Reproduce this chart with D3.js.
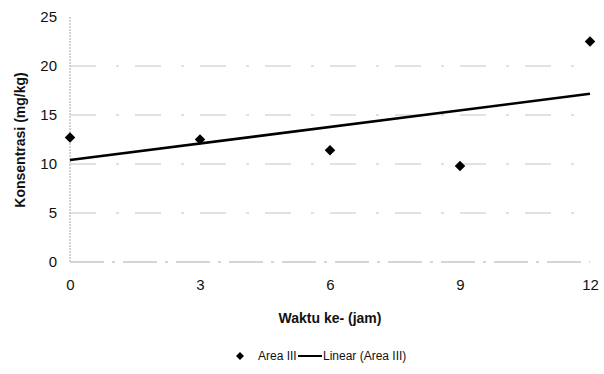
<!DOCTYPE html>
<html>
<head>
<meta charset="utf-8">
<script src="https://cdn.jsdelivr.net/npm/d3@7"></script>
<style>
  html, body { margin: 0; padding: 0; background: #fff; }
  text { font-family: "Liberation Sans", Arial, sans-serif; fill: #111; }
</style>
</head>
<body>
<svg id="chart" width="604" height="374"></svg>
<script>
// Sampling hours and measured concentration (Area III)
const hours = [0, 3, 6, 9, 12];
const konsentrasi = [12.7, 12.5, 11.4, 9.8, 22.5];
const xTicks = [0, 3, 6, 9, 12];
const yTicks = [0, 5, 10, 15, 20, 25];

const svg = d3.select("#chart");
const x = d3.scaleLinear().domain([0, 12]).range([70, 590]);
const y = d3.scaleLinear().domain([0, 25]).range([262, 17]);

// Horizontal gridlines
svg.append("g").selectAll("line")
  .data(yTicks.filter(d => d > 0 && d < 25))
  .join("line")
  .attr("x1", x(0)).attr("x2", x(12))
  .attr("y1", d => y(d)).attr("y2", d => y(d))
  .attr("stroke", "#c4c4c4").attr("stroke-width", 1)
  .attr("stroke-dasharray", "26,20,3,16");

// Baseline and vertical axis
svg.append("line")
  .attr("x1", x(0)).attr("x2", x(12)).attr("y1", y(0)).attr("y2", y(0))
  .attr("stroke", "#aaa").attr("stroke-dasharray", "34,8,3,8");
svg.append("line")
  .attr("x1", x(0)).attr("x2", x(0)).attr("y1", y(25)).attr("y2", y(0))
  .attr("stroke", "#aaa").attr("stroke-dasharray", "2,1");

// Axes (labels only)
const yAxis = d3.axisLeft(y).tickValues(yTicks).tickSize(0).tickPadding(13);
svg.append("g").attr("transform", `translate(${x(0)},0)`).call(yAxis)
  .call(g => g.select(".domain").remove())
  .call(g => g.selectAll("text").attr("font-size", 15).style("font-family", "Liberation Sans, Arial, sans-serif"));

const xAxis = d3.axisBottom(x).tickValues(xTicks).tickSize(0).tickPadding(17);
svg.append("g").attr("transform", `translate(0,${y(0)})`).call(xAxis)
  .call(g => g.select(".domain").remove())
  .call(g => g.selectAll("text").attr("font-size", 15).style("font-family", "Liberation Sans, Arial, sans-serif"));

// Least-squares trend line
const mx = d3.mean(hours), my = d3.mean(konsentrasi);
const slope = d3.sum(hours, (h, i) => (h - mx) * (konsentrasi[i] - my)) / d3.sum(hours, h => (h - mx) ** 2);
const intercept = my - slope * mx;
svg.append("line")
  .attr("x1", x(0)).attr("y1", y(intercept))
  .attr("x2", x(12)).attr("y2", y(intercept + slope * 12))
  .attr("stroke", "#000").attr("stroke-width", 2.6);

// Data markers
const diamond = d3.symbol().type(d3.symbolDiamond2).size(70);
svg.append("g").selectAll("path")
  .data(hours.map((h, i) => [h, konsentrasi[i]]))
  .join("path")
  .attr("d", diamond)
  .attr("transform", d => `translate(${x(d[0])},${y(d[1])})`)
  .attr("fill", "#000");

// Axis titles
svg.append("text")
  .attr("x", 330).attr("y", 323).attr("text-anchor", "middle")
  .attr("font-size", 14).attr("font-weight", "bold")
  .text("Waktu ke- (jam)");
svg.append("text")
  .attr("transform", "translate(25,140) rotate(-90)").attr("text-anchor", "middle")
  .attr("font-size", 14).attr("font-weight", "bold")
  .text("Konsentrasi (mg/kg)");

// Legend
const lg = svg.append("g");
lg.append("path").attr("d", d3.symbol().type(d3.symbolDiamond2).size(40))
  .attr("transform", "translate(240,356)").attr("fill", "#000");
lg.append("text").attr("x", 258).attr("y", 360).attr("font-size", 12).text("Area III");
lg.append("line").attr("x1", 298).attr("x2", 322).attr("y1", 356).attr("y2", 356)
  .attr("stroke", "#000").attr("stroke-width", 2);
lg.append("text").attr("x", 323).attr("y", 360).attr("font-size", 12).text("Linear (Area III)");
</script>
</body>
</html>
